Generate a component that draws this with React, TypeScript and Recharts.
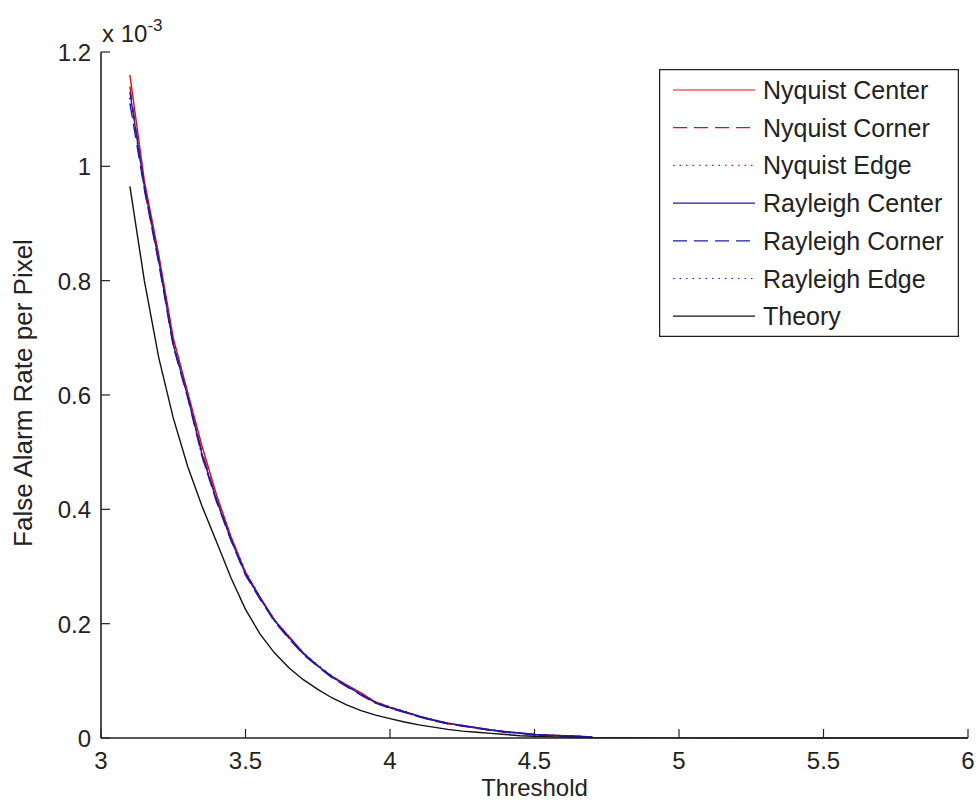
import React from 'react';
import { LineChart, Line, XAxis, YAxis, Legend } from 'recharts';

// thresholds (x) and rates in units of 1e-3
const thresholds = [
  3.1, 3.15, 3.2, 3.25, 3.3, 3.35, 3.4, 3.45, 3.5, 3.55, 3.6, 3.65, 3.7, 3.75, 3.8, 3.85, 3.9,
  3.95, 4.0, 4.05, 4.1, 4.15, 4.2, 4.25, 4.3, 4.35, 4.4, 4.45, 4.5, 4.55, 4.6, 4.65, 4.7,
  5.0, 5.5, 6.0,
];

const nyquistCenter = [
  1.16, 0.975, 0.845, 0.7, 0.605, 0.51, 0.425, 0.352, 0.29, 0.247, 0.206, 0.178, 0.149, 0.126,
  0.108, 0.093, 0.079, 0.063, 0.054, 0.046, 0.038, 0.032, 0.026, 0.021, 0.018, 0.014, 0.011,
  0.008, 0.006, 0.005, 0.004, 0.003, 0.001,
];
const nyquistCorner = [
  1.14, 0.96, 0.835, 0.69, 0.598, 0.5, 0.418, 0.348, 0.288, 0.244, 0.207, 0.175, 0.147, 0.127,
  0.106, 0.091, 0.077, 0.062, 0.053, 0.045, 0.037, 0.031, 0.025, 0.022, 0.017, 0.014, 0.01,
  0.009, 0.006, 0.004, 0.004, 0.002, 0.001,
];
const nyquistEdge = [
  1.12, 0.97, 0.84, 0.695, 0.6, 0.49, 0.414, 0.35, 0.292, 0.246, 0.205, 0.176, 0.148, 0.128,
  0.107, 0.092, 0.075, 0.061, 0.052, 0.046, 0.039, 0.03, 0.026, 0.021, 0.018, 0.013, 0.011,
  0.008, 0.005, 0.005, 0.003, 0.003, 0.001,
];
const rayleighCenter = [
  1.13, 0.965, 0.835, 0.688, 0.598, 0.495, 0.416, 0.347, 0.287, 0.245, 0.206, 0.176, 0.148,
  0.126, 0.107, 0.091, 0.076, 0.062, 0.053, 0.046, 0.038, 0.031, 0.026, 0.022, 0.018, 0.014,
  0.011, 0.009, 0.006, 0.005, 0.004, 0.003, 0.002,
];
const rayleighCorner = [
  1.11, 0.96, 0.83, 0.685, 0.595, 0.492, 0.413, 0.345, 0.285, 0.243, 0.204, 0.174, 0.146,
  0.125, 0.105, 0.09, 0.075, 0.061, 0.052, 0.045, 0.037, 0.03, 0.025, 0.021, 0.017, 0.013,
  0.01, 0.008, 0.005, 0.004, 0.003, 0.002, 0.001,
];
const rayleighEdge = [
  1.12, 0.968, 0.838, 0.692, 0.6, 0.497, 0.417, 0.349, 0.289, 0.246, 0.207, 0.177, 0.149,
  0.127, 0.108, 0.092, 0.077, 0.063, 0.054, 0.047, 0.038, 0.032, 0.026, 0.022, 0.018, 0.014,
  0.011, 0.009, 0.006, 0.005, 0.004, 0.003, 0.002,
];
const theory = [
  0.965, 0.8, 0.665, 0.56, 0.475, 0.405, 0.343, 0.28, 0.225, 0.182, 0.149, 0.123, 0.102, 0.085,
  0.07, 0.058, 0.048, 0.04, 0.034, 0.028, 0.023, 0.019, 0.015, 0.012, 0.01, 0.008, 0.006,
  0.004, 0.003, 0.002, 0.0015, 0.001, 0.0007, 0.0002, 0, 0,
];

const xTicks = [3, 3.5, 4, 4.5, 5, 5.5, 6];
const yTicks = [0, 0.2, 0.4, 0.6, 0.8, 1, 1.2];

const RED = '#d41414';
const BLUE = '#1c1ca8';

const series = [
  { key: 'nyqCenter', name: 'Nyquist Center', values: nyquistCenter, color: RED, dash: undefined },
  { key: 'nyqCorner', name: 'Nyquist Corner', values: nyquistCorner, color: RED, dash: '14 7' },
  { key: 'nyqEdge', name: 'Nyquist Edge', values: nyquistEdge, color: RED, dash: '1.5 5' },
  { key: 'rayCenter', name: 'Rayleigh Center', values: rayleighCenter, color: BLUE, dash: undefined },
  { key: 'rayCorner', name: 'Rayleigh Corner', values: rayleighCorner, color: BLUE, dash: '14 7' },
  { key: 'rayEdge', name: 'Rayleigh Edge', values: rayleighEdge, color: BLUE, dash: '1.5 5' },
  { key: 'theory', name: 'Theory', values: theory, color: '#111', dash: undefined },
];

const data = thresholds.map((t, i) => {
  const row: Record<string, number | null> = { t };
  series.forEach((s) => {
    row[s.key] = i < s.values.length ? s.values[i] : null;
  });
  return row;
});

const FONT = '"Liberation Sans", Arial, sans-serif';
const TEXT = '#222';
const TICK_LEN = 9;

const BottomTick = (props: any) => {
  const { x, y, payload } = props;
  return (
    <g>
      <line x1={x} y1={y} x2={x} y2={y - TICK_LEN} stroke="#222" strokeWidth={1.2} />
      <text x={x} y={y + 31} textAnchor="middle" fontSize={24} fontFamily={FONT} fill={TEXT}>
        {payload.value}
      </text>
    </g>
  );
};

const TopTick = (props: any) => {
  const { x, y } = props;
  return <line x1={x} y1={y} x2={x} y2={y + TICK_LEN} stroke="#222" strokeWidth={1.2} />;
};

const LeftTick = (props: any) => {
  const { x, y, payload } = props;
  return (
    <g>
      <line x1={x} y1={y} x2={x + TICK_LEN} y2={y} stroke="#222" strokeWidth={1.2} />
      <text x={x - 10} y={y + 9} textAnchor="end" fontSize={24} fontFamily={FONT} fill={TEXT}>
        {payload.value}
      </text>
    </g>
  );
};

const RightTick = (props: any) => {
  const { x, y } = props;
  return <line x1={x} y1={y} x2={x - TICK_LEN} y2={y} stroke="#222" strokeWidth={1.2} />;
};

const renderLegend = () => (
  <svg width={300} height={268} style={{ display: 'block' }}>
    <rect x={0.5} y={0.5} width={299} height={267} fill="#fff" stroke="#222" strokeWidth={1.5} />
    {series.map((s, i) => {
      const cy = 21 + i * 37.7;
      return (
        <g key={s.key}>
          <line x1={14} y1={cy} x2={96} y2={cy} stroke={s.color} strokeWidth={1.2} strokeDasharray={s.dash} />
          <text x={104} y={cy + 9} fontSize={25} fontFamily={FONT} fill={TEXT}>
            {s.name}
          </text>
        </g>
      );
    })}
  </svg>
);

export default function App() {
  return (
    <div style={{ position: 'absolute', left: 0, top: 0, width: 976, height: 809, background: '#fff' }}>
      <LineChart width={976} height={809} data={data} margin={{ top: 52, right: 8, bottom: 0, left: 0 }}>
        <XAxis
          xAxisId="bottom"
          dataKey="t"
          type="number"
          domain={[3, 6]}
          ticks={xTicks}
          interval={0}
          height={71}
          tickSize={0}
          tickMargin={0}
          tickLine={false}
          axisLine={{ stroke: '#222', strokeWidth: 1.6 }}
          tick={<BottomTick />}
          label={(p: any) => (
            <text
              x={p.viewBox.x + p.viewBox.width / 2}
              y={p.viewBox.y + 58}
              textAnchor="middle"
              fontSize={24}
              fontFamily={FONT}
              fill={TEXT}
            >
              Threshold
            </text>
          )}
        />
        <XAxis
          xAxisId="top"
          orientation="top"
          dataKey="t"
          type="number"
          domain={[3, 6]}
          ticks={xTicks}
          interval={0}
          height={0}
          tickSize={0}
          tickMargin={0}
          tickLine={false}
          axisLine={{ stroke: '#222', strokeWidth: 1.6 }}
          tick={<TopTick />}
        />
        <YAxis
          yAxisId="left"
          type="number"
          domain={[0, 1.2]}
          ticks={yTicks}
          interval={0}
          width={101}
          tickSize={0}
          tickMargin={0}
          tickLine={false}
          axisLine={{ stroke: '#222', strokeWidth: 1.6 }}
          tick={<LeftTick />}
          label={(p: any) => {
            const cx = p.viewBox.x + 32;
            const cy = p.viewBox.y + p.viewBox.height / 2 - 2;
            return (
              <text
                x={cx}
                y={cy}
                transform={`rotate(-90 ${cx} ${cy})`}
                textAnchor="middle"
                fontSize={26}
                fontFamily={FONT}
                fill={TEXT}
              >
                False Alarm Rate per Pixel
              </text>
            );
          }}
        />
        <YAxis
          yAxisId="right"
          orientation="right"
          type="number"
          domain={[0, 1.2]}
          ticks={yTicks}
          interval={0}
          width={0}
          tickSize={0}
          tickMargin={0}
          tickLine={false}
          axisLine={{ stroke: '#222', strokeWidth: 1.6 }}
          tick={<RightTick />}
        />
        <Legend
          layout="vertical"
          align="center"
          verticalAlign="middle"
          content={renderLegend}
          wrapperStyle={{ position: 'absolute', left: 659, top: 69, width: 300, height: 268 }}
        />
        {series.map((s) => (
          <Line
            key={s.key}
            xAxisId="bottom"
            yAxisId="left"
            dataKey={s.key}
            name={s.name}
            type="linear"
            stroke={s.color}
            strokeWidth={s.key === 'theory' ? 1.4 : 1.4}
            strokeDasharray={s.dash}
            dot={false}
            activeDot={false}
            connectNulls={false}
            isAnimationActive={false}
          />
        ))}
      </LineChart>
      <div
        style={{
          position: 'absolute',
          left: 102,
          top: 14,
          fontFamily: FONT,
          fontSize: 24,
          color: TEXT,
          lineHeight: '28px',
          whiteSpace: 'nowrap',
        }}
      >
        x 10<sup style={{ fontSize: 17, position: 'relative', top: -2 }}>-3</sup>
      </div>
    </div>
  );
}
